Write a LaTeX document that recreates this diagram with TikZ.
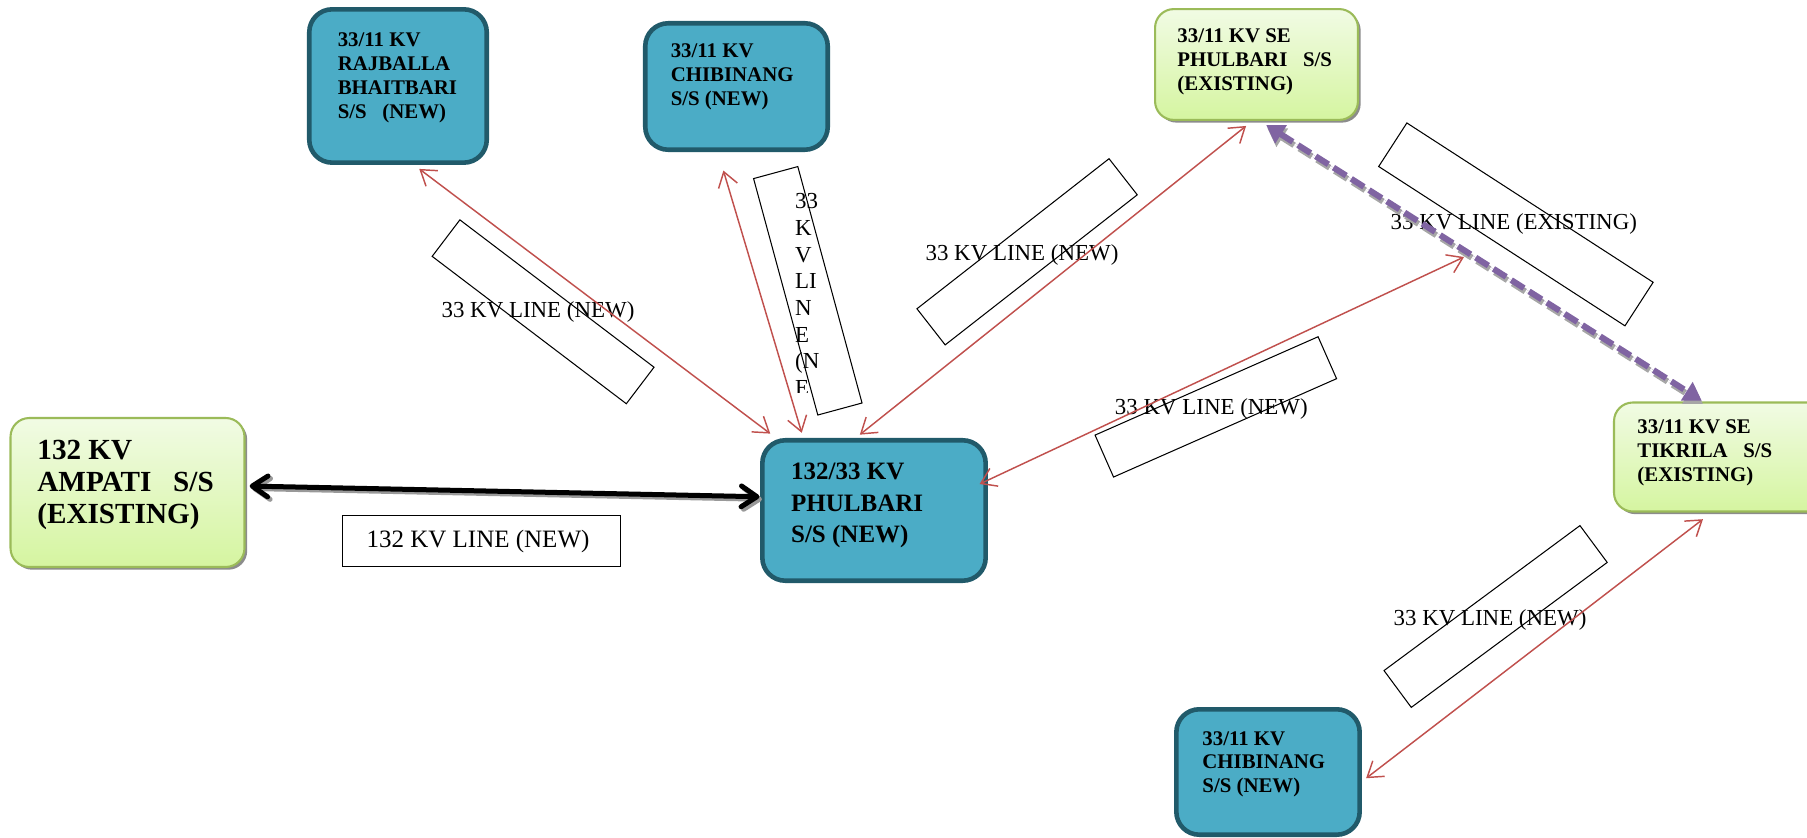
\documentclass[tikz,border=0pt]{standalone}
\usepackage{fontspec}
\setmainfont{Liberation Serif}
\usetikzlibrary{arrows.meta,shadows}
\definecolor{boxblue}{HTML}{4BACC6}
\definecolor{boxdark}{HTML}{215A6A}
\definecolor{greentop}{HTML}{F1FBE4}
\definecolor{greenbot}{HTML}{D5F5A0}
\definecolor{greenedge}{HTML}{9BBB59}
\definecolor{linered}{HTML}{C0504D}
\definecolor{linepurple}{HTML}{8064A2}
\tikzset{
  bluebox/.style={draw=boxdark, line width=2.2pt, fill=boxblue, rounded corners=11pt, inner sep=0pt},
  greenbox/.style={draw=greenedge, line width=1pt, top color=greentop, bottom color=greenbot,
    rounded corners=9pt, inner sep=0pt,
    drop shadow={shadow xshift=1.3pt, shadow yshift=-1.3pt, fill=black!45, opacity=1}},
  smalltxt/.style={font=\fontsize{10}{11.4}\selectfont\bfseries, anchor=base west, inner sep=0pt},
  bigtxt/.style={font=\fontsize{12}{15}\selectfont\bfseries, anchor=base west, inner sep=0pt},
  hugetxt/.style={font=\fontsize{14}{15.2}\selectfont\bfseries, anchor=base west, inner sep=0pt},
  lblbox/.style={draw=black, line width=0.5pt, minimum width=117pt, minimum height=22pt, inner sep=0pt},
  lbltxt/.style={font=\fontsize{11}{12.8}\selectfont, anchor=base, inner sep=0pt},
  redline/.style={draw=linered, line width=0.7pt,
    {Straight Barb[length=7pt,width=9.4pt]}-{Straight Barb[length=7pt,width=9.4pt]}},
  blackline/.style={line width=2.4pt, line cap=round,
    {Straight Barb[length=7.5pt,width=10pt,line cap=round,line join=round]}-{Straight Barb[length=7.5pt,width=10pt,line cap=round,line join=round]}},
  purpleline/.style={line width=2.9pt, dash pattern=on 7.2pt off 2.9pt,
    {Triangle[length=8.5pt,width=10pt]}-{Triangle[length=8.5pt,width=10pt]}},
}
\begin{document}
\begin{tikzpicture}[x=0.48pt, y=-0.48pt]
\useasboundingbox (0,0) rectangle (1807,838);

% ---------- boxes ----------
\node[bluebox, minimum width=85.2pt, minimum height=73.6pt] (raj) at (398,86) {};
\node[bluebox, minimum width=87.6pt, minimum height=60.7pt] (chibT) at (736.5,86.5) {};
\node[bluebox, minimum width=107.2pt, minimum height=67.4pt] (phul) at (874,510.5) {};
\node[bluebox, minimum width=88pt, minimum height=60.2pt] (chibB) at (1268,772) {};
\node[greenbox, minimum width=112.3pt, minimum height=71.5pt] (amp) at (127.5,492.5) {};
\node[greenbox, minimum width=97.4pt, minimum height=53.2pt] (sep) at (1256.5,64.5) {};
\node[greenbox, minimum width=103.2pt, minimum height=52.3pt] (tik) at (1721.5,457) {};

% ---------- box texts ----------
\node[smalltxt] (traj) at (337.4,47) {\begin{tabular}[t]{@{}l@{}}33/11 KV\\RAJBALLA\\BHAITBARI\\S/S~~~(NEW)\end{tabular}};
\node[smalltxt] (tchibT) at (670.4,58) {\begin{tabular}[t]{@{}l@{}}33/11 KV\\CHIBINANG\\S/S (NEW)\end{tabular}};
\node[bigtxt] (tphul) at (790.7,480) {\begin{tabular}[t]{@{}l@{}}132/33 KV\\PHULBARI\\S/S (NEW)\end{tabular}};
\node[smalltxt] (tchibB) at (1202,745) {\begin{tabular}[t]{@{}l@{}}33/11 KV\\CHIBINANG\\S/S (NEW)\end{tabular}};
\node[hugetxt] (tamp) at (37,460) {\begin{tabular}[t]{@{}l@{}}132 KV\\AMPATI~~~S/S\\(EXISTING)\end{tabular}};
\node[smalltxt] (tsep) at (1177,43) {\begin{tabular}[t]{@{}l@{}}33/11 KV SE\\PHULBARI~~~S/S\\(EXISTING)\end{tabular}};
\node[smalltxt] (ttik) at (1637,434) {\begin{tabular}[t]{@{}l@{}}33/11 KV SE\\TIKRILA~~~S/S\\(EXISTING)\end{tabular}};

% ---------- label boxes ----------
\node[lblbox, minimum width=133.2pt, minimum height=24.5pt] (b1) at (481.3,541.2) {};
\node[lblbox, rotate=-37.2] (b2) at (543.1,311.8) {};
\node[lblbox, minimum width=117.6pt, rotate=-74.8] (b3) at (807.8,290.8) {};
\node[lblbox, rotate=38] (b4) at (1027.1,251.8) {};
\node[lblbox, minimum width=140.8pt, minimum height=24.9pt, rotate=-32.9] (b5) at (1515.9,224.4) {};
\node[lblbox, rotate=23.8] (b6) at (1215.8,406.9) {};
\node[lblbox, rotate=36.5] (b7) at (1495.6,616.5) {};

% ---------- label texts ----------
\node[lbltxt, font=\fontsize{12}{14}\selectfont] (l1) at (478,548) {132 KV LINE (NEW)};
\node[lbltxt] (l2) at (538,318) {33 KV LINE (NEW)};
\begin{scope}
  \clip (770,170) rectangle (840,393);
  \node[lbltxt, anchor=base west] (l3) at (794.7,209) {\begin{tabular}[t]{@{}l@{}}33\\K\\V\\LI\\N\\E\\(N\\E\end{tabular}};
\end{scope}
\node[lbltxt] (l4) at (1022,260.7) {33 KV LINE (NEW)};
\node[lbltxt] (l5) at (1513.8,230) {33 KV LINE (EXISTING)};
\node[lbltxt] (l6) at (1211.3,415) {33 KV LINE (NEW)};
\node[lbltxt] (l7) at (1490,625) {33 KV LINE (NEW)};

% ---------- connectors ----------
\coordinate (onexist) at (1464,257);

% black 132 kV line with shadow
\draw[blackline, draw=black!40, transform canvas={xshift=1.2pt, yshift=-1.2pt}]
  ([xshift=2pt,yshift=3.1pt]amp.east) -- ([xshift=-0.3pt,yshift=6.6pt]phul.west);
\draw[blackline, draw=black]
  ([xshift=2pt,yshift=3.1pt]amp.east) -- ([xshift=-0.3pt,yshift=6.6pt]phul.west);

% purple existing line with shadow
\draw[purpleline, draw=black!35, fill=black!35, transform canvas={xshift=0.6pt, yshift=-1.6pt}]
  ([xshift=53.8pt,yshift=-1.9pt]sep.south west) -- ([xshift=42.6pt,yshift=0.4pt]tik.north west);
\draw[purpleline, draw=linepurple, fill=linepurple]
  ([xshift=53.8pt,yshift=-1.9pt]sep.south west) -- ([xshift=42.6pt,yshift=0.4pt]tik.north west);

% red 33 kV lines
\draw[redline] ([xshift=53.9pt,yshift=-1.9pt]raj.south west) -- ([xshift=4.9pt,yshift=2.1pt]phul.north west);
\draw[redline] ([xshift=38.6pt,yshift=-8.9pt]chibT.south west) -- ([xshift=20pt,yshift=2.5pt]phul.north west);
\draw[redline] ([xshift=44.2pt,yshift=-2.4pt]sep.south west) -- ([xshift=47.9pt,yshift=1.6pt]phul.north west);
\draw[redline] ([xshift=-4pt,yshift=12.7pt]phul.east) -- (onexist);
\draw[redline] ([xshift=2pt,yshift=-3pt]chibB.east) -- ([xshift=43.2pt,yshift=-3.2pt]tik.south west);
\end{tikzpicture}
\end{document}
